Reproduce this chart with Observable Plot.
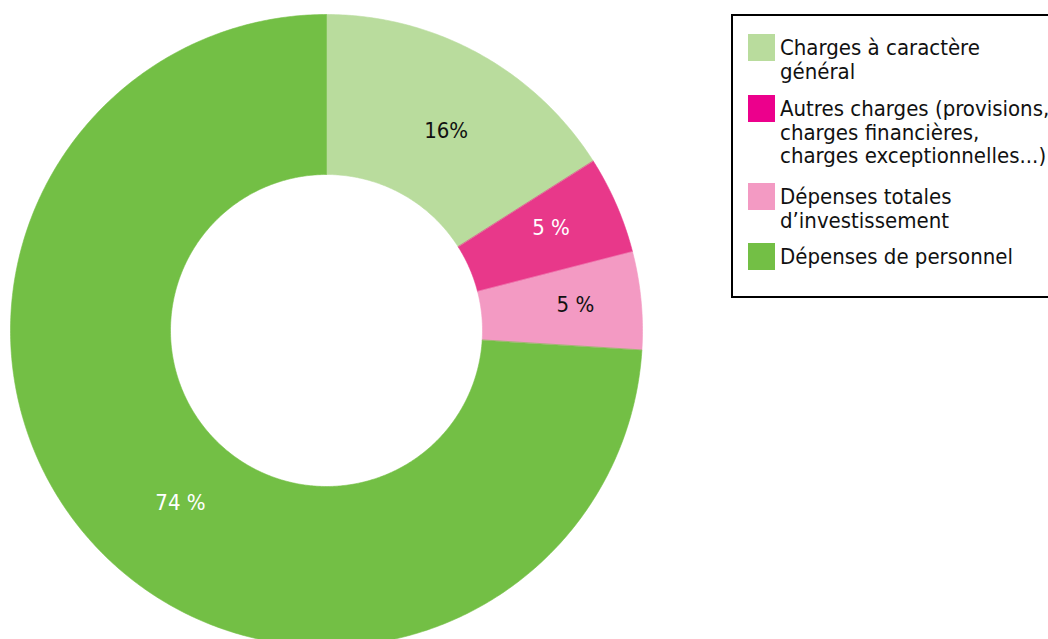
<!DOCTYPE html>
<html>
<head>
<meta charset="utf-8">
<script src="https://cdn.jsdelivr.net/npm/d3@7"></script>
<script src="https://cdn.jsdelivr.net/npm/@observablehq/plot@0.6"></script>
<style>
  html, body { margin: 0; padding: 0; background: #fff; }
  #wrap { position: relative; width: 1048px; height: 639px; overflow: hidden; }
  #legend { position: absolute; left: 731px; top: 14px; width: 340px; height: 284px;
    border: 2px solid #000; box-sizing: border-box; background: #fff;
    font-family: "DejaVu Sans Condensed", sans-serif; font-size: 22px; line-height: 23.5px; color: #111; }
  .item { position: absolute; left: 47px; }
  .txt { position: relative; top: 5px; }
  .sw { position: absolute; left: -32px; top: 3px; width: 27px; height: 27px; }
</style>
</head>
<body>
<div id="wrap"><div id="legend"></div></div>
<script>
const names = ["Charges à caractère général", "Autres charges", "Dépenses totales d’investissement", "Dépenses de personnel"];
const values = [16, 5, 5, 74];
const labels = ["16%", "5 %", "5 %", "74 %"];
const legendLines = [
  ["Charges à caractère", "général"],
  ["Autres charges (provisions,", "charges financières,", "charges exceptionnelles...)"],
  ["Dépenses totales", "d’investissement"],
  ["Dépenses de personnel"]
];
const sliceColors = ["#b9dc9d", "#e8388a", "#f39ac3", "#73bf45"];
const legendColors = ["#b9dc9d", "#ec008c", "#f39ac3", "#73bf45"];
const labelColors = ["#111", "#fff", "#111", "#fff"];
// label nudges (pixels)
const labelDx = [6, 8, 14, 26];
const labelDy = [7, -9, -3, 11];

const inner = 156 / 316;
const total = d3.sum(values);
let acc = 0;
const pts = [];
const labelData = [];
values.forEach((v, i) => {
  const a0 = acc / total * 2 * Math.PI;
  acc += v;
  const a1 = acc / total * 2 * Math.PI;
  const n = Math.max(8, Math.ceil((a1 - a0) / 0.01));
  for (let k = 0; k <= n; k++) {
    const a = a0 + (a1 - a0) * k / n;
    pts.push({name: names[i], x: Math.sin(a), y: Math.cos(a)});
  }
  for (let k = n; k >= 0; k--) {
    const a = a0 + (a1 - a0) * k / n;
    pts.push({name: names[i], x: inner * Math.sin(a), y: inner * Math.cos(a)});
  }
  const am = (a0 + a1) / 2, rm = (1 + inner) / 2;
  labelData.push({text: labels[i], x: rm * Math.sin(am), y: rm * Math.cos(am), i});
});

const chart = Plot.plot({
  width: 1048, height: 639, margin: 0,
  x: {domain: [-326 / 316, 722 / 316], axis: null},
  y: {domain: [-309 / 316, 330 / 316], axis: null},
  color: {domain: names, range: sliceColors},
  style: {fontFamily: "'DejaVu Sans Condensed', sans-serif"},
  marks: [
    Plot.line(pts, {x: "x", y: "y", z: "name", fill: "name", stroke: "name", strokeWidth: 0.6, curve: "linear-closed"}),
    ...labelData.map(d => Plot.text([d], {x: "x", y: "y", text: "text", fill: labelColors[d.i], fontSize: 22, dx: labelDx[d.i], dy: labelDy[d.i]}))
  ]
});
document.getElementById("wrap").prepend(chart);

const legend = document.getElementById("legend");
const tops = [15, 76, 164, 224];
legendLines.forEach((lines, i) => {
  const it = document.createElement("div");
  it.className = "item";
  it.style.top = tops[i] + "px";
  const sw = document.createElement("div");
  sw.className = "sw";
  sw.style.background = legendColors[i];
  it.appendChild(sw);
  const tx = document.createElement("div");
  tx.className = "txt";
  lines.forEach(l => { const d = document.createElement("div"); d.textContent = l; d.style.whiteSpace = "nowrap"; tx.appendChild(d); });
  it.appendChild(tx);
  legend.appendChild(it);
});
</script>
</body>
</html>
